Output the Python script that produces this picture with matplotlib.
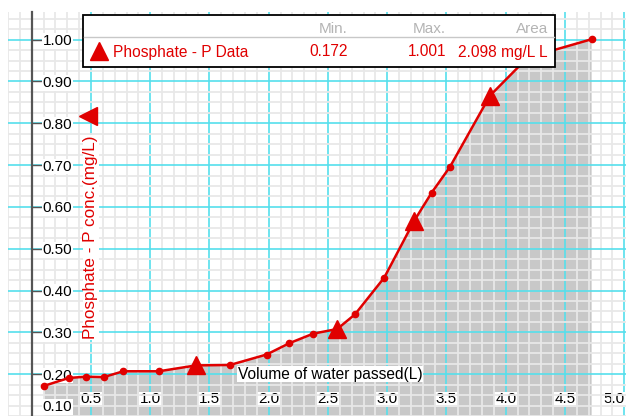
import matplotlib
matplotlib.use('Agg')
import matplotlib.pyplot as plt
import matplotlib.transforms as mtransforms
from matplotlib.patches import Rectangle
from matplotlib.lines import Line2D
import numpy as np

plt.rcParams['font.family'] = ['Liberation Sans', 'DejaVu Sans']

# data
volume = [0.103, 0.314, 0.458, 0.607, 0.773, 1.074, 1.386, 1.673, 1.982, 2.173,
          2.376, 2.578, 2.728, 2.975, 3.228, 3.375, 3.530, 3.867, 4.185, 4.725]
phosphate = [0.172, 0.191, 0.194, 0.193, 0.207, 0.207, 0.221, 0.222, 0.247, 0.274,
             0.297, 0.308, 0.343, 0.431, 0.567, 0.634, 0.696, 0.866, 0.957, 1.001]
tri_idx = [6, 11, 14, 17]          # points drawn as big triangles

x_ticks = [0.5, 1.0, 1.5, 2.0, 2.5, 3.0, 3.5, 4.0, 4.5, 5.0]
y_ticks = [0.2, 0.3, 0.4, 0.5, 0.6, 0.7, 0.8, 0.9, 1.0]

series_name = 'Phosphate - P Data'
stat_heads = ['Min.', 'Max.', 'Area']
stat_vals = ['0.172', '1.001', '2.098 mg/L L']

red = '#e00000'
cyan = '#55dfec'

W, H = 626, 416
fig = plt.figure(figsize=(W / 100, H / 100), dpi=100)
ax = fig.add_axes([8 / W, 0, 618 / W, 404 / H])
ax.set_xlim(-0.2, 5.015)
ax.set_ylim(0.1127, 1.0661)

# grid
ax.set_xticks(x_ticks)
ax.set_yticks(y_ticks)
ax.set_xticks(np.arange(-0.2, 5.05, 0.1), minor=True)
ax.set_yticks(np.arange(0.1, 1.07, 0.025), minor=True)
ax.grid(True, which='major', color=cyan, lw=1.2)
ax.grid(True, which='minor', color='#e8e8e8', lw=1.3)
ax.set_axisbelow('line')

for s in ['top', 'right', 'bottom']:
    ax.spines[s].set_visible(False)
ax.spines['left'].set_position(('data', 0))
ax.spines['left'].set_color('#555555')
ax.spines['left'].set_linewidth(1.6)

ax.tick_params(axis='y', which='major', direction='in', length=7, width=1,
               color='#555555', pad=-8, labelsize=11)
ax.tick_params(axis='y', which='minor', length=0)
ax.tick_params(axis='x', which='both', length=0, pad=-17, labelsize=11)
ax.set_yticklabels(['%.2f' % v for v in y_ticks])
ax.set_xticklabels(['%.1f' % v for v in x_ticks])
for lab in ax.get_yticklabels():
    lab.set_ha('left')
    lab.set_bbox(dict(facecolor='white', edgecolor='none', pad=0.5))
for lab in ax.get_xticklabels():
    lab.set_bbox(dict(facecolor='white', edgecolor='none', pad=0.5))
# last x label sits on the right edge, keep it inside
ax.get_xticklabels()[-1].set_ha('right')
ax.get_xticklabels()[-1].set_x(5.013)

# bottom y label is pushed up into view
blend = mtransforms.blended_transform_factory(ax.transData, ax.transAxes)
ax.text(0.09, 0.022, '0.10', transform=blend, fontsize=11, ha='left', va='center',
        bbox=dict(facecolor='white', edgecolor='none', pad=0.5))

# area + line
ax.fill_between(volume, phosphate, 0, color='#c8c8c8', lw=0, zorder=1)
ax.plot(volume, phosphate, color=red, lw=1.8, marker='o', ms=4.5, zorder=3)
ax.plot([volume[i] for i in tri_idx], [phosphate[i] for i in tri_idx],
        ls='none', marker='^', ms=13, color=red, zorder=4)

# axis labels inside the plot
ax.text(2.52, 0.20, 'Volume of water passed(L)', fontsize=11.2, ha='center', va='center',
        zorder=5, bbox=dict(facecolor='white', edgecolor='none', pad=0.5))
ax.text(0.5, 0.527, 'Phosphate - P conc.(mg/L)', color=red, fontsize=12.3, rotation=90,
        ha='center', va='center', zorder=5,
        bbox=dict(facecolor='white', edgecolor='none', pad=0.3))
ax.plot([0.475], [0.818], marker='<', ms=13, color=red, zorder=6)

# legend table
def fx(px):
    return px / W


def fy(py):
    return 1 - py / H


fig.patches.append(Rectangle((fx(83), fy(67)), fx(555) - fx(83), fy(15) - fy(67),
                             transform=fig.transFigure, facecolor='white',
                             edgecolor='black', lw=1.3, zorder=10))
fig.lines.append(Line2D([fx(84), fx(554)], [fy(37), fy(37)], transform=fig.transFigure,
                        color='#c8c8c8', lw=1, zorder=11))
fig.lines.append(Line2D([fx(99)], [fy(51)], transform=fig.transFigure, marker='^',
                        ms=13, color=red, zorder=11))
fig.text(fx(113), fy(52), series_name, color=red, fontsize=11.2, ha='left', va='center',
         zorder=12)
for head, val, xr in zip(stat_heads, stat_vals, [348, 446, 548]):
    fig.text(fx(xr), fy(29), head, color='#b4b4b4', fontsize=11, ha='right',
             va='center', zorder=12)
    fig.text(fx(xr), fy(52), val, color=red, fontsize=11.2, ha='right', va='center',
             zorder=12)

fig.savefig('out.png', dpi=100)
